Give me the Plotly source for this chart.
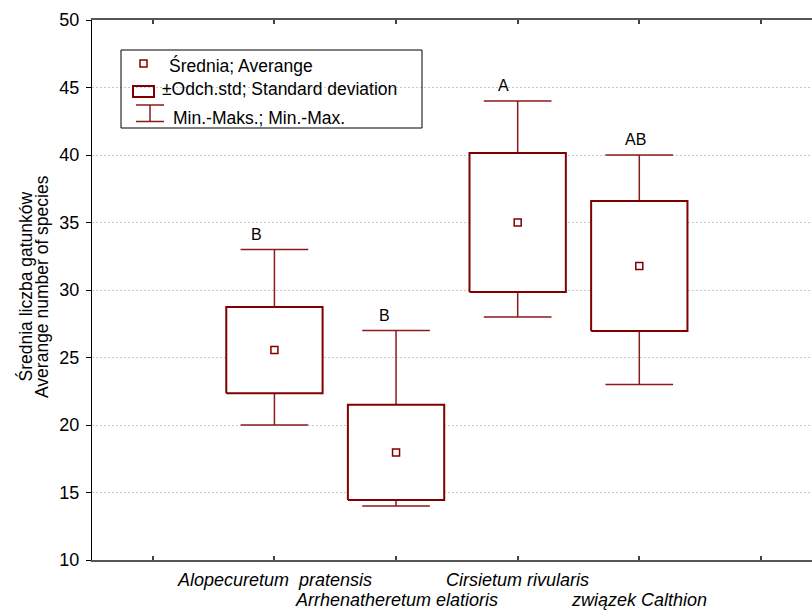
import plotly.graph_objects as go

# ---------------- data ----------------
categories = ["Alopecuretum  pratensis", "Arrhenatheretum elatioris",
              "Cirsietum rivularis", "związek Calthion"]
means = [25.55, 17.97, 35.0, 31.78]
sds = [3.19, 3.53, 5.14, 4.81]
mins = [20, 14, 28, 23]
maxs = [33, 27, 44, 40]
letters = ["B", "B", "A", "AB"]
y_ticks = [10, 15, 20, 25, 30, 35, 40, 45, 50]
y_title_lines = ["Średnia liczba gatunków", "Averange number of species"]
legend_labels = ["Średnia; Averange", "±Odch.std; Standard deviation",
                 "Min.-Maks.; Min.-Max."]

# ---------------- style ----------------
FONT = "Liberation Sans, Arial, sans-serif"
BOX_C = "#800000"
WH_C = "#8b1a1a"
BOX_HW = 0.396
CAP_HW = 0.278
letter_dx = [-18, -12, -14, -4]
W, H = 812, 610
L, R, T, B = 92, 0, 20, 50
PW, PH = W - L - R, H - T - B


def px(x):
    return (x - L) / PW


def py(y):
    return (H - B - y) / PH


positions = list(range(1, len(categories) + 1))

box_x, box_y = [], []
wh_x, wh_y = [], []
cap_x, cap_y = [], []
for p, m, s, lo, hi in zip(positions, means, sds, mins, maxs):
    b0, b1 = m - s, m + s
    box_x += [p - BOX_HW, p + BOX_HW, p + BOX_HW, p - BOX_HW, p - BOX_HW, None]
    box_y += [b0, b0, b1, b1, b0, None]
    wh_x += [p, p, None, p, p, None]
    wh_y += [b1, hi, None, b0, lo, None]
    cap_x += [p - CAP_HW, p + CAP_HW, None, p - CAP_HW, p + CAP_HW, None]
    cap_y += [hi, hi, None, lo, lo, None]

fig = go.Figure()
fig.add_trace(go.Scatter(x=wh_x, y=wh_y, mode="lines",
                         line=dict(color=WH_C, width=1.5), hoverinfo="skip"))
fig.add_trace(go.Scatter(x=cap_x, y=cap_y, mode="lines",
                         line=dict(color=WH_C, width=1.5), hoverinfo="skip"))
fig.add_trace(go.Scatter(x=box_x, y=box_y, mode="lines", fill="toself",
                         fillcolor="white",
                         line=dict(color=BOX_C, width=2), hoverinfo="skip"))
fig.add_trace(go.Scatter(x=positions, y=means, mode="markers",
                         marker=dict(symbol="square-open", size=7, color=BOX_C,
                                     line=dict(width=1.5, color=BOX_C))))

annotations = []
# significance letters
for p, hi, t, dx in zip(positions, maxs, letters, letter_dx):
    annotations.append(dict(x=p, y=hi, xref="x", yref="y", text=t,
                            showarrow=False, yanchor="bottom", xanchor="center",
                            xshift=dx, yshift=5,
                            font=dict(family=FONT, size=16, color="black")))
# category labels (staggered)
for i, (p, c) in enumerate(zip(positions, categories)):
    yy = 580 if i % 2 == 0 else 600
    annotations.append(dict(x=p, y=py(yy), xref="x", yref="paper",
                            text="<i>" + c + "</i>", showarrow=False,
                            xanchor="center", yanchor="middle",
                            font=dict(family=FONT, size=18, color="black")))
# y title
for xx, t in zip([24.5, 42.0], y_title_lines):
    annotations.append(dict(x=px(xx), y=py(287), xref="paper", yref="paper",
                            text=t, textangle=-90, showarrow=False,
                            xanchor="center", yanchor="middle",
                            font=dict(family=FONT, size=17.5, color="black")))
# legend texts
for (xx, yy), t in zip([(167, 66), (160, 89), (171, 117.5)], legend_labels):
    annotations.append(dict(x=px(xx), y=py(yy), xref="paper", yref="paper",
                            text=t, showarrow=False, xanchor="left",
                            yanchor="middle",
                            font=dict(family=FONT, size=17.5, color="black")))

shapes = [
    # legend frame
    dict(type="rect", xref="paper", yref="paper", x0=px(121), x1=px(422),
         y0=py(50), y1=py(128), line=dict(color="black", width=1)),
    # legend symbols
    dict(type="rect", xref="paper", yref="paper", x0=px(140), x1=px(147),
         y0=py(60), y1=py(67), line=dict(color=BOX_C, width=1.5)),
    dict(type="rect", xref="paper", yref="paper", x0=px(133), x1=px(154),
         y0=py(86), y1=py(97), line=dict(color=BOX_C, width=2)),
    dict(type="line", xref="paper", yref="paper", x0=px(136), x1=px(164),
         y0=py(105), y1=py(105), line=dict(color=WH_C, width=1.5)),
    dict(type="line", xref="paper", yref="paper", x0=px(150), x1=px(150),
         y0=py(105), y1=py(121.5), line=dict(color=WH_C, width=1.5)),
    dict(type="line", xref="paper", yref="paper", x0=px(136), x1=px(164),
         y0=py(121.5), y1=py(121.5), line=dict(color=WH_C, width=1.5)),
]

fig.update_layout(
    width=W, height=H,
    margin=dict(l=L, r=R, t=T, b=B),
    paper_bgcolor="white", plot_bgcolor="white",
    showlegend=False,
    annotations=annotations,
    shapes=shapes,
    font=dict(family=FONT, size=16, color="black"),
    xaxis=dict(range=[-0.5, 5.42], tickvals=[0, 1, 2, 3, 4, 5],
               showticklabels=False, ticks="inside", ticklen=4,
               tickcolor="#444", tickwidth=1.5,
               showline=True, linecolor="#555", linewidth=1.5,
               mirror="ticks", showgrid=False, zeroline=False),
    yaxis=dict(range=[10, 50], tickvals=y_ticks, ticks="outside", ticklen=5,
               tickcolor="black", showline=True, linecolor="black",
               linewidth=1, showgrid=True, gridcolor="#c8c8c8",
               griddash="2px,2px", gridwidth=1, zeroline=False,
               ticklabelstandoff=3,
               tickfont=dict(family=FONT, size=18, color="black")),
)

fig.write_html(
    "out.html",
    config={"displayModeBar": False},
    post_script="document.body.style.margin='0';"
                "document.body.style.overflow='hidden';",
)
